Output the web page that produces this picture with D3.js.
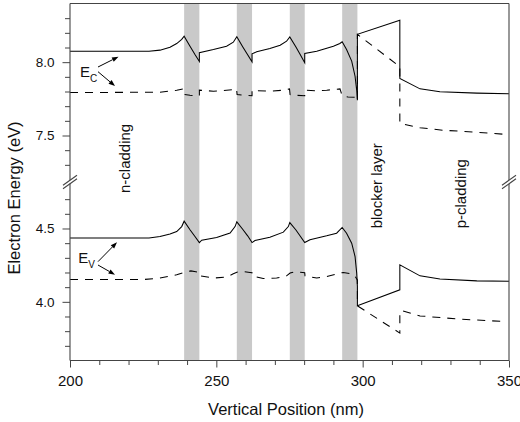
<!DOCTYPE html>
<html><head><meta charset="utf-8">
<script src="https://cdn.jsdelivr.net/npm/d3@7"></script>
<style>
html,body{margin:0;padding:0;background:#fff;}
text{font-family:"Liberation Sans",Arial,Helvetica,sans-serif;fill:#111;}
</style></head>
<body><svg id="c" width="520" height="422"></svg>
<script>
// ---- data ----
const wellStart = [239, 257, 275.1, 293];
const wellEnd   = [244.2, 262.2, 280.2, 298.2];

const xMajor = [200, 250, 300, 350];
const xMinor = [210, 220, 230, 240, 260, 270, 280, 290, 310, 320, 330, 340];
const yMajor = [4.0, 4.5, 7.5, 8.0];
const yMinor = [3.7, 3.8, 3.9, 4.1, 4.2, 4.3, 4.4, 4.6, 4.7, 7.3, 7.4, 7.6, 7.7, 7.8, 7.9, 8.1, 8.2, 8.3];

// conduction band (solid)
const ecSolid = [
 [200,8.075],[227,8.075],[230.75,8.082],[234.17,8.102],[236.46,8.127],[238.17,8.155],[239,8.177],
 [241.0,8.109],[242.7,8.052],[244.2,8.005],[244.2,8.064],
 [249.0,8.086],[253.5,8.109],[255.8,8.136],[257,8.173],
 [259,8.105],[260.7,8.05],[262.2,8.002],[262.2,8.057],
 [263.8,8.071],[268.3,8.093],[271.8,8.116],[274.0,8.143],[275.1,8.172],
 [277.2,8.104],[278.7,8.05],[280.2,7.996],[280.2,8.059],
 [284.3,8.075],[290.0,8.109],[292.2,8.127],[293,8.139],
 [294.5,8.086],[296.25,8.007],[297.4,7.904],[298.0,7.80],[298.2,7.74],[298.2,8.19],
 [312.7,8.286],[312.7,7.889],[319.6,7.818],[326.4,7.798],[339,7.789],[350,7.784]
];
// conduction band (dashed)
const ecDash = [
 [200,7.793],[230.75,7.795],[236.46,7.809],[238.9,7.818],[239.1,7.779],[241,7.774],[244.2,7.771],[244.2,7.809],
 [249,7.802],[255.8,7.812],[256.9,7.818],[257.1,7.779],[259.5,7.774],[262.2,7.771],[262.2,7.809],
 [263.8,7.805],[268.3,7.802],[272.9,7.809],[275.0,7.818],[275.2,7.779],[277.5,7.774],[280.2,7.771],[280.2,7.809],
 [284.3,7.804],[287.7,7.809],[292.25,7.818],[293,7.771],[295,7.762],[298.2,7.76],[298.2,7.74],
 [298.2,8.19],[312.7,7.969],[312.7,7.583],[319.6,7.553],[327.5,7.536],[339,7.522],[350,7.506]
];
// valence band (solid)
const evSolid = [
 [200,4.435],[227,4.435],[230.75,4.446],[234.17,4.462],[236.46,4.479],[238.17,4.513],[239,4.550],
 [241.0,4.491],[242.7,4.445],[244.2,4.404],[245.0,4.420],
 [250.1,4.438],[254.7,4.469],[256.4,4.513],[257,4.545],
 [259,4.495],[260.7,4.45],[262.2,4.404],[263.2,4.418],
 [268.3,4.441],[272.9,4.475],[274.6,4.513],[275.1,4.540],
 [277.2,4.49],[278.7,4.447],[280.2,4.404],[282.0,4.423],
 [287.7,4.450],[291.1,4.468],[293,4.507],
 [294.5,4.468],[296.25,4.400],[297.4,4.309],[297.96,4.196],[298.2,4.104],[298.2,3.973],
 [312.7,4.082],[312.7,4.252],[319.6,4.177],[326.4,4.155],[339,4.143],[350,4.141]
];
// valence band (dashed)
const evDash = [
 [200,4.152],[225,4.152],[230.75,4.162],[236.46,4.184],[239.3,4.202],[241.3,4.211],[243,4.205],[244.2,4.200],[244.4,4.177],
 [249,4.162],[253.5,4.169],[255.8,4.191],[257,4.202],[258.7,4.207],[261.5,4.200],[262.2,4.198],[262.3,4.177],
 [266,4.159],[270.6,4.162],[274.0,4.177],[275.2,4.196],[277,4.205],[279.5,4.2],[280.2,4.198],[280.3,4.177],
 [284.3,4.162],[287.7,4.173],[292.25,4.196],[293.4,4.2],[296.25,4.191],[297.4,4.173],[298.2,4.15],[298.2,3.973],
 [312.7,3.787],[312.7,3.934],[313.8,3.938],[319.6,3.904],[333.3,3.882],[348,3.866]
];

// annotations (data units)
const ecLabel = {x:203.4, y:7.897};
const evLabel = {x:202.84, y:4.263};
const ecArrows = [[[209.57,7.967],[216.57,8.037]],[[209.57,7.935],[215.38,7.837]]];
const evArrows = [[[209.57,4.274],[216.06,4.406]],[[209.57,4.251],[215.38,4.185]]];
const regionLabels = [
  {text:"n-cladding", x:220.5, y0:193},
  {text:"blocker layer", x:306.6, y0:228.3},
  {text:"p-cladding", x:335.3, y0:228.3}
];

// ---- layout ----
const L=70, R=509, T=3.5, B=360.5, BRK=182;
const svg = d3.select("#c");
const x = d3.scaleLinear().domain([200,350]).range([L,R]);
const y = d3.scaleLinear().domain([3.6, 4.817, 7.183, 8.4]).range([B, BRK, BRK, T]);

// wells
svg.append("g").selectAll("rect").data(wellStart).join("rect")
  .attr("x", d=>x(d)).attr("width",(d,i)=>x(wellEnd[i])-x(d))
  .attr("y", T).attr("height", B-T).attr("fill","#c9c9c9");

const line = d3.line().x(d=>x(d[0])).y(d=>y(d[1]));
const g = svg.append("g").attr("fill","none").attr("stroke","#000").attr("stroke-width",1.05);
g.append("path").attr("d", line(ecSolid));
g.append("path").attr("d", line(evSolid));
g.append("path").attr("d", line(ecDash)).attr("stroke-dasharray","8,7");
g.append("path").attr("d", line(evDash)).attr("stroke-dasharray","8,7");

// axes
const axCol = "#444";
const xa = svg.append("g").attr("transform",`translate(0,${B})`);
xa.call(d3.axisBottom(x).tickValues(xMajor).tickSize(7).tickPadding(7.4).tickFormat(d3.format("d")));
xa.append("g").call(d3.axisBottom(x).tickValues(xMinor).tickSize(4.5).tickFormat(""));
xa.selectAll(".domain").remove();
xa.selectAll("line").attr("stroke",axCol);
xa.selectAll("text").attr("font-size",15).attr("fill","#111").attr("font-family",'"Liberation Sans",Arial,sans-serif');

const ya = svg.append("g").attr("transform",`translate(${L},0)`);
ya.call(d3.axisLeft(y).tickValues(yMajor).tickSize(7.5).tickPadding(8).tickFormat(d3.format(".1f")));
ya.append("g").call(d3.axisLeft(y).tickValues(yMinor).tickSize(5).tickFormat(""));
ya.selectAll(".domain").remove();
ya.selectAll("line").attr("stroke",axCol);
ya.selectAll("text").attr("font-size",13.5).attr("fill","#111").attr("font-family",'"Liberation Sans",Arial,sans-serif');

// frame with breaks
const fr = svg.append("g").attr("stroke",axCol).attr("stroke-width",1.1).attr("fill","none");
const gap = 1.8;
[L,R].forEach(xx=>{
  fr.append("line").attr("x1",xx).attr("x2",xx).attr("y1",T).attr("y2",BRK-gap);
  fr.append("line").attr("x1",xx).attr("x2",xx).attr("y1",BRK+gap).attr("y2",B);
  [-gap,gap].forEach(o=>{
    fr.append("line").attr("x1",xx-7).attr("y1",BRK+o+5).attr("x2",xx+7).attr("y2",BRK+o-5);
  });
});
fr.append("line").attr("x1",L).attr("x2",R).attr("y1",T).attr("y2",T);
fr.append("line").attr("x1",L).attr("x2",R).attr("y1",B).attr("y2",B);

// axis titles
svg.append("text").attr("x",(L+R)/2-3.5).attr("y",415).attr("text-anchor","middle")
  .attr("font-size",16.5).text("Vertical Position (nm)");
svg.append("text").attr("transform","translate(20,198) rotate(-90)").attr("text-anchor","middle")
  .attr("font-size",16.5).text("Electron Energy (eV)");

// region labels
regionLabels.forEach(r=>{
  svg.append("text").attr("transform",`translate(${x(r.x)},${r.y0}) rotate(-90)`)
    .attr("font-size",15).text(r.text);
});

// E labels
function eLabel(p, sub){
  const t = svg.append("text").attr("x",x(p.x)).attr("y",y(p.y)).attr("font-size",15);
  t.append("tspan").text("E");
  t.append("tspan").attr("font-size",10).attr("dy",4.5).attr("dx",0).text(sub);
}
eLabel(ecLabel,"C");
eLabel(evLabel,"V");

function arrow(a){
  const x1=x(a[0][0]), y1=y(a[0][1]), x2=x(a[1][0]), y2=y(a[1][1]);
  const ang=Math.atan2(y2-y1,x2-x1), len=6.5, w=2.4;
  const bx=x2-len*Math.cos(ang), by=y2-len*Math.sin(ang);
  svg.append("line").attr("x1",x1).attr("y1",y1).attr("x2",bx).attr("y2",by)
    .attr("stroke","#000").attr("stroke-width",1);
  const px=-Math.sin(ang)*w, py=Math.cos(ang)*w;
  svg.append("path").attr("d",`M${x2},${y2}L${bx+px},${by+py}L${bx-px},${by-py}Z`).attr("fill","#000");
}
ecArrows.forEach(arrow);
evArrows.forEach(arrow);
</script></body></html>
